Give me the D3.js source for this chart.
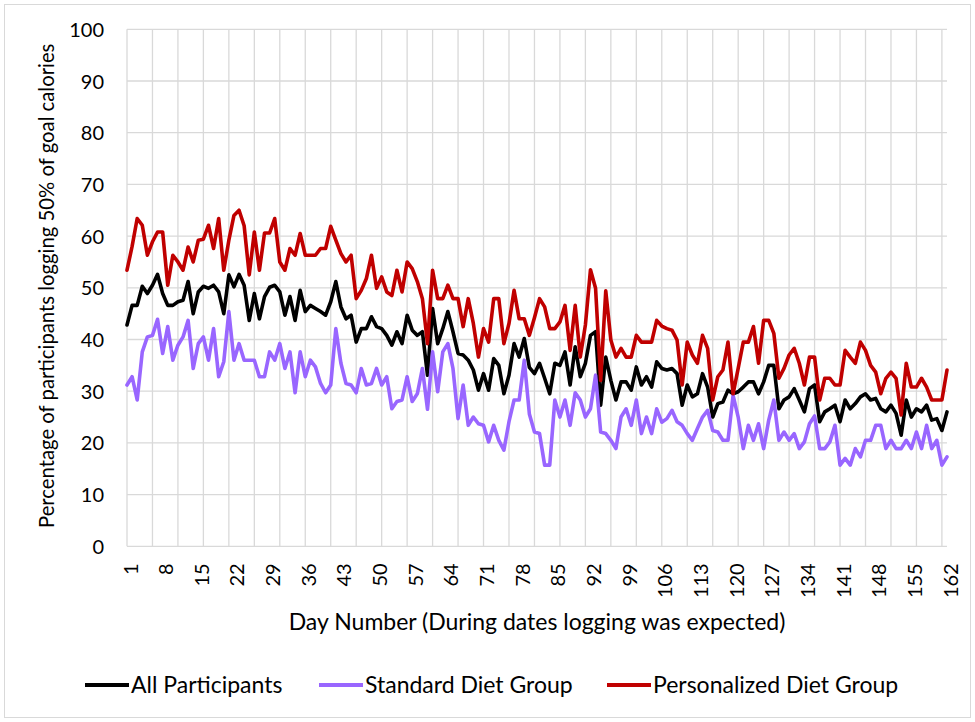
<!DOCTYPE html>
<html><head><meta charset="utf-8">
<script src="https://cdn.jsdelivr.net/npm/d3@7"></script>
<style>body{margin:0;background:#fff}svg{display:block}text{font-family:Lato,"Noto Sans",sans-serif;fill:#000}</style>
</head><body><svg id="c" width="975" height="722"></svg>
<script>
const allParticipants = [42.8,46.6,46.6,50.3,48.9,50.5,52.6,48.9,46.6,46.6,47.3,47.6,51.2,45,49.2,50.3,49.9,50.5,49.2,45,
52.5,50.2,52.6,50.5,43.7,48.9,44,48.3,50.1,50.5,49.2,44.7,48.3,43.7,49.5,45.4,46.6,46,45.4,44.7,
47.3,51.2,46.3,44,44.7,39.5,42.1,42.1,44.4,42.5,42.1,40.8,38.9,41.5,39.2,44.7,41.8,40.8,41.5,33.1,
46,39.2,42.1,45.4,41.5,37.3,37,36,34.1,30.2,33.4,30.2,36.3,35,29.5,33.1,39.2,36.6,40.2,34.6,
33.4,35.4,32.5,29.5,35.4,35,37.6,31.2,38.6,32.8,35.4,40.8,41.5,27.3,36.6,32.1,28.3,31.8,31.8,30.2,
34.7,31.2,32.8,30.8,35.7,34.4,34.1,34.4,33.4,27.3,31.2,28.9,29.5,33.4,30.8,25,27.6,27.9,30.2,29.5,
29.9,30.8,31.8,31.8,29.5,31.8,35,35,26.6,28.3,28.9,30.5,28.3,26,30.5,31.2,24.1,26,26.6,27.3,
24.1,28.3,26.6,27.6,28.9,29.5,28.3,28.6,26.6,26,27.3,25.7,21.5,28.3,25,26.6,26,27.3,24.4,24.7,
22.4,26];
const standardDiet = [31.2,32.8,28.3,37.6,40.5,40.8,43.9,37.3,42.5,36,38.9,40.5,43.7,34.4,39.2,40.5,36,42.1,32.8,35.7,
45.4,36,39.2,36,36,36,32.8,32.8,37.6,36,39.2,34.4,37.6,29.7,37.6,32.8,36,34.7,31.5,29.7,
31.2,42.1,35.4,31.5,31.2,29.7,34.4,31.2,31.5,34.4,31.2,32.8,26.6,28,28.3,32.8,28,29.5,34.4,26.5,
37.6,29.9,37.6,39.2,34.4,24.7,31.2,23.4,25,23.7,23.4,20.2,23.4,20.5,18.6,24.1,28.3,28.3,36,25.6,
22.1,21.8,15.7,15.7,28.3,25,28.3,23.4,29.7,28.3,25,26.6,33.1,22.1,21.8,20.5,18.9,25,26.6,23.4,
28.3,21.8,25,21.8,26.6,24,24.7,26.3,24.1,23.4,21.8,20.5,22.8,25,26.3,22.4,22.1,20.5,20.5,29.2,
25,18.9,23.4,20.5,23.7,18.9,24.4,28.3,20.5,22.1,20.5,21.8,18.9,20.2,23.7,25.2,18.9,18.9,20.2,23.4,
15.7,17,15.7,18.9,17.3,20.5,20.5,23.4,23.4,18.9,20.5,18.9,18.9,20.5,18.9,22.1,18.9,23.4,18.9,20.5,
15.7,17.3];
const personalizedDiet = [53.4,58,63.4,62.1,56.3,58.9,60.8,60.8,50.5,56.3,55,53.4,57.9,55,59.2,59.4,62.1,57.6,63.4,53.4,
59.2,64,65,62,52.5,60.8,53.4,60.6,60.6,63.4,55,53.4,57.6,56.3,60.5,56.3,56.3,56.3,57.6,57.6,
61.9,59.2,56.6,55,56.3,47.9,49.5,51.8,56.3,49.9,52.1,49.2,48.5,53.4,49.2,55,53.7,51.2,47.9,39.2,
53.4,47.9,47.9,50.5,47.9,47.9,42.5,47.9,43.1,36.6,42.1,39.5,47.9,47.9,39.2,43.1,49.5,44,44,40.8,
44.2,47.9,46.3,42.1,42.1,43.4,46.6,37.9,46.6,36.6,42.8,53.5,49.9,32.1,49.4,39.9,36.6,38.3,36.6,36.6,
40.8,39.5,39.5,39.5,43.7,42.6,42.1,41.8,39.9,31.2,39.5,37,35.4,40.8,38.3,28.3,32.8,34.1,39.5,29.5,
34.4,39.5,39.5,42.5,35.4,43.7,43.7,41.2,32.5,34.4,37,38.3,35.4,31.2,36.6,36.6,28.3,32.5,32.5,31.2,
31.2,37.9,36.6,35.4,39.5,37.9,35,33.7,29.5,32.5,33.7,32.5,25.4,35.4,30.8,30.8,32.5,30.8,28.3,28.3,
28.3,34.1];
const days = d3.range(1, 163);
const xTickDays = [1,8,15,22,29,36,43,50,57,64,71,78,85,92,99,106,113,120,127,134,141,148,155,162];
const yTicks = [0,10,20,30,40,50,60,70,80,90,100];
const seriesNames = ["All Participants","Standard Diet Group","Personalized Diet Group"];
const seriesColors = ["#000000","#9966ff","#c00000"];
const seriesData = [allParticipants, standardDiet, personalizedDiet];

const svg = d3.select("#c");
const L=127, R=947, T=29.3, B=546.3;
const x = d3.scaleLinear().domain([1,162]).range([L,R]);
const y = d3.scaleLinear().domain([0,100]).range([B,T]);

svg.append("rect").attr("x",4.5).attr("y",4.5).attr("width",966).attr("height",713)
  .attr("fill","#fff").attr("stroke","#d9d9d9").attr("stroke-width",1);

// gridlines
const g = svg.append("g");
g.selectAll("line.h").data(yTicks).join("line")
  .attr("x1",L).attr("x2",R).attr("y1",d=>y(d)).attr("y2",d=>y(d))
  .attr("stroke","#d9d9d9").attr("stroke-width",1.3);
g.selectAll("line.v").data(d3.range(1,163,5)).join("line")
  .attr("x1",d=>x(d)).attr("x2",d=>x(d)).attr("y1",T).attr("y2",B)
  .attr("stroke","#d9d9d9").attr("stroke-width",1.3);

// y axis labels
const yAxis = d3.axisLeft(y).tickValues(yTicks).tickSize(0).tickPadding(0);
svg.append("g").attr("transform",`translate(${104},0)`).call(yAxis)
  .call(s=>s.select(".domain").remove())
  .selectAll("text").style("font-size","20px").style("font-family","Lato").attr("fill","#000").attr("dy","0.35em");

// x axis labels
const xAxis = d3.axisBottom(x).tickValues(xTickDays).tickSize(0).tickPadding(0);
svg.append("g").attr("transform",`translate(0,${B})`).call(xAxis)
  .call(s=>s.select(".domain").remove())
  .selectAll("text").style("font-size","20px").style("font-family","Lato").attr("fill","#000")
  .attr("text-anchor","end").attr("transform","translate(3,17) rotate(-90)").attr("x",0).attr("y",0).attr("dy","0.35em");

// lines
const line = d3.line().x((d,i)=>x(days[i])).y(d=>y(d));
[0,1,2].forEach(k=>{
  svg.append("path").datum(seriesData[k]).attr("d",line)
    .attr("fill","none").attr("stroke",seriesColors[k]).attr("stroke-width",3.6)
    .attr("stroke-linejoin","round").attr("stroke-linecap","round");
});

// axis titles
svg.append("text").attr("transform",`translate(47,${(T+B)/2 - 2}) rotate(-90)`)
  .attr("text-anchor","middle").attr("dy","0.35em").style("font-size","20.3px")
  .text("Percentage of participants logging 50% of goal calories");
svg.append("text").attr("x",537).attr("y",622).attr("text-anchor","middle").attr("dy","0.35em")
  .style("font-size","23px").text("Day Number (During dates logging was expected)");

// legend
const legX=[85,319,607];
const leg = svg.append("g");
seriesNames.forEach((n,k)=>{
  leg.append("line").attr("x1",legX[k]).attr("x2",legX[k]+44).attr("y1",685).attr("y2",685)
    .attr("stroke",seriesColors[k]).attr("stroke-width",4);
  leg.append("text").attr("x",legX[k]+46).attr("y",685).attr("dy","0.35em").style("font-size","23px").text(n);
});
</script></body></html>
